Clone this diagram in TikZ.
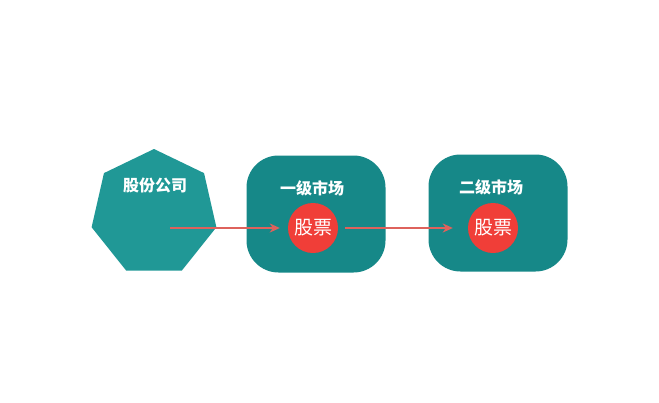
\documentclass[tikz,border=0pt]{standalone}
\usepackage{fontspec}
\newfontfamily\cjk{Noto Sans CJK SC}
\usetikzlibrary{shapes.geometric}
\usetikzlibrary{arrows.meta}
\definecolor{heptateal}{RGB}{32,152,150}
\definecolor{boxteal}{RGB}{22,136,136}
\definecolor{stockred}{RGB}{240,62,56}
\definecolor{arrowred}{RGB}{222,98,92}

\begin{document}
\begin{tikzpicture}[x=1pt,y=-1pt,
    market/.style={draw=none,fill=boxteal,rounded corners=32pt,
        minimum width=139pt,minimum height=117pt},
    stock/.style={circle,fill=stockred,minimum size=50pt,inner sep=0pt,
        text=white,font=\cjk\fontsize{19pt}{19pt}\selectfont},
    title/.style={text=white,font=\cjk\bfseries\fontsize{16pt}{16pt}\selectfont},
    flow/.style={draw=arrowred,line width=2pt,
        -{Stealth[length=10pt,width=9pt,inset=3pt]}}]
    \useasboundingbox (0,0) rectangle (659,402);

    \node[regular polygon,regular polygon sides=7,minimum size=128pt,
        inner sep=0pt,fill=heptateal] (company) at (154,213) {};
    \node[market] (primary) at (316,214) {};
    \node[market] (secondary) at (498,213) {};

    \node[title] (companylabel) at (155,185) {股份公司};
    \node[title] (primarylabel) at (312,188) {一级市场};
    \node[title] (secondarylabel) at (491,187) {二级市场};

    \node[stock] (stock1) at (313,228) {股票};
    \node[stock] (stock2) at (493,228) {股票};

    \coordinate (issue) at (170,228);
    \draw[flow,shorten >=8pt] (issue) -- (stock1.west);
    \draw[flow,shorten <=7pt,shorten >=15pt] (stock1.east) -- (stock2.west);
\end{tikzpicture}
\end{document}
